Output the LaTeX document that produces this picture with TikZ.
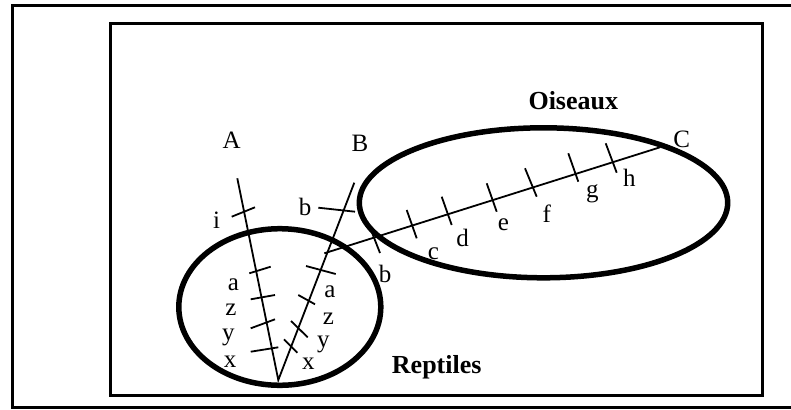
\documentclass[tikz,border=0pt]{standalone}
\usepackage{fontspec}
\setmainfont{Liberation Serif}
\begin{document}
\begin{tikzpicture}[x=1pt, y=-1pt,
  lettre/.style={font=\fontsize{25}{28}\selectfont, inner sep=0pt},
  groupe/.style={font=\fontsize{26}{30}\selectfont\bfseries, inner sep=0pt},
  branche/.style={line width=1.8pt},
  contour/.style={line width=5.5pt}]
  \useasboundingbox (0,0) rectangle (791,409);
  % Cadres
  \draw[line width=3pt] (791,5.5) -- (12.7,5.5) -- (12.7,407.5) -- (791,407.5);
  \draw[line width=3.5pt] (110.7,23.3) rectangle (762.3,395.7);
  % Groupes
  \draw[contour] (279.8,307) ellipse [x radius=101, y radius=78.3];
  \draw[contour] (543.5,202.8) ellipse [x radius=184.2, y radius=75];
  % Branches
  \coordinate (R) at (278.3,380);
  \coordinate (A) at (237.3,178.3);
  \coordinate (B) at (354.3,182.7);
  \coordinate (J) at (324.3,253.3);
  \coordinate (C) at (660,147.3);
  \draw[branche] (A) -- (R) -- (B);
  \draw[branche] (J) -- (C);
  % Graduations
  \foreach \xa/\ya/\xb/\yb in {231.7/216.7/255/207.3, 249.3/273.3/270.7/266.7,
      250.7/299.3/275/295, 250.7/328.3/275/319.3, 250.7/351.7/278.3/347.3,
      318.3/207.7/355/211.7, 306/266/335.7/274, 298.3/295/315/304.3,
      291/321/307.7/337.3, 284/339.3/297.3/352.7,
      371/230/380/253, 406.7/210/416.7/238.3, 441.7/196.7/451.7/225,
      486.7/183.3/496.7/211.7, 525/168.3/536.7/196.7, 568.3/153.3/578.3/181.7,
      605.7/143.3/616.7/172.7}
    \draw[branche] (\xa,\ya) -- (\xb,\yb);
  % Lettres
  \node[lettre] (lA) at (231.7,140) {A};
  \node[lettre] (lB) at (360,143.3) {B};
  \node[lettre] (lC) at (681.7,139) {C};
  \foreach \x/\y/\t [count=\k] in {216.7/220/i, 233.3/285/a, 231/310/z,
      228.3/337/y, 230/361.7/x, 305/207/b, 330/291.7/a, 328.3/318.3/z,
      323.3/344/y, 308.3/363.3/x, 385/274/b, 433.3/253.3/c, 462.7/238.3/d,
      503.3/225/e, 546.7/213.3/f, 592.3/193.3/g, 629.3/178.3/h}
    \node[lettre] (m\k) at (\x,\y) {\t};
  \node[groupe] (oiseaux) at (573.3,100.7) {Oiseaux};
  \node[groupe] (reptiles) at (436.7,367) {Reptiles};
\end{tikzpicture}
\end{document}
